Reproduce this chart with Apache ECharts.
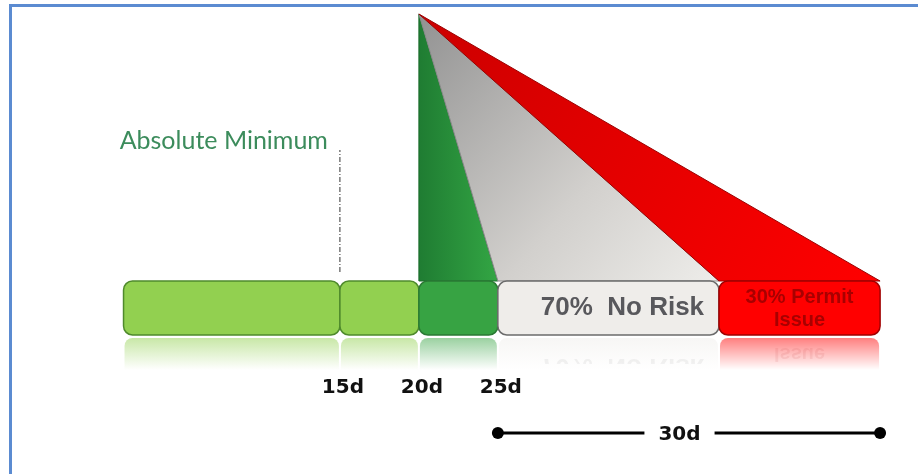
<!DOCTYPE html>
<html>
<head>
<meta charset="utf-8">
<script src="https://cdn.jsdelivr.net/npm/echarts@6/dist/echarts.min.js"></script>
<style>
html, body { margin: 0; padding: 0; background: #fff; }
#chart { width: 918px; height: 474px; }
</style>
</head>
<body>
<div id="chart"></div>
<script>
// 时间轴分段（单位：天）
var segStart = [1.3, 15, 20, 25, 39];
var segEnd = [15, 20, 25, 39, 49.2];
var segText = ['', '', '', '70%  No Risk', '30% Permit\nIssue'];
var barTop = 19.3;
var barBottom = 13.9;

// 顶点与三角形底边
var apexDay = 20;
var apexHeight = 46;
var wedgeStart = [20, 25, 39];
var wedgeEnd = [25, 39, 49.2];

// 刻度
var tickDays = [15, 20, 25];
var tickLabels = ['15d', '20d', '25d'];
var tickHeight = 8.6;

// 30天区间
var spanDays = [25, 49.2];
var spanLabel = '30d';
var spanLabelDay = 36.5;
var spanHeight = 4.1;

// 最低线
var minDay = 15;
var minLabel = 'Absolute Minimum';
var minLine = [20.2, 32.4];
var minLabelHeight = 33.3;

var segFill = ['#92d050', '#92d050', '#37a343', '#efedea', '#ff0000'];
var segStroke = ['#4f8a2c', '#4f8a2c', '#2a7a34', '#6b6b6b', '#a00000'];
var segTextColor = ['', '', '', '#58585c', '#a80000'];

var myChart = echarts.init(document.getElementById('chart'));

function fade(color, a) {
    var c = echarts.color.parse(color);
    return 'rgba(' + c[0] + ',' + c[1] + ',' + c[2] + ',' + a + ')';
}

function renderBar(params, api) {
    var i = params.dataIndex;
    var p0 = api.coord([api.value(0), api.value(2)]);
    var p1 = api.coord([api.value(1), api.value(3)]);
    var w = p1[0] - p0[0];
    var h = p1[1] - p0[1];
    var children = [{
        type: 'rect',
        shape: { x: p0[0] + 1, y: p1[1] + 3, width: w - 2, height: 32, r: [8, 8, 0, 0] },
        style: {
            fill: new echarts.graphic.LinearGradient(0, 0, 0, 1, [
                { offset: 0, color: fade(segFill[i], 0.5) },
                { offset: 1, color: fade(segFill[i], 0) }
            ])
        }
    }, {
        type: 'rect',
        shape: { x: p0[0], y: p0[1], width: w, height: h, r: 9 },
        style: { fill: segFill[i], stroke: segStroke[i], lineWidth: 1.5 }
    }];
    if (segText[i]) {
        var big = i === 3;
        var font = big ? 'bold 26px "Liberation Sans", Arial' : 'bold 20px "Liberation Sans", Arial';
        var cx = p0[0] + w / 2 + (big ? 14 : 0);
        var cy = p0[1] + h / 2 + (big ? 0 : 1);
        children.push({
            type: 'text',
            x: cx, y: cy,
            style: { text: segText[i], font: font, fill: segTextColor[i], align: 'center', verticalAlign: 'middle', lineHeight: 23 }
        });
        children.push({
            type: 'group',
            clipPath: { type: 'rect', shape: { x: p0[0], y: p1[1] + 3, width: w, height: 26 } },
            children: [{
                type: 'text',
                x: cx, y: p1[1] + (p1[1] - cy) + 4,
                scaleY: -1,
                style: { text: segText[i], font: font, fill: fade(segTextColor[i], 0.08), align: 'center', verticalAlign: 'middle', lineHeight: 23 }
            }]
        });
    }
    return { type: 'group', children: children };
}

var wedgeFill = [
    new echarts.graphic.LinearGradient(0, 0, 1, 0, [
        { offset: 0, color: '#1f7c32' },
        { offset: 1, color: '#33a644' }
    ]),
    new echarts.graphic.LinearGradient(0, 0, 1, 1, [
        { offset: 0, color: '#929292' },
        { offset: 0.6, color: '#d2d0cd' },
        { offset: 1, color: '#eeedea' }
    ]),
    new echarts.graphic.LinearGradient(0, 0, 1, 1, [
        { offset: 0, color: '#cc0000' },
        { offset: 1, color: '#ff0000' }
    ])
];
var wedgeStroke = ['#1a6a2a', '#8a8a8a', '#9a0000'];

function renderWedge(params, api) {
    var i = params.dataIndex;
    var a = api.coord([apexDay, apexHeight]);
    var b = api.coord([api.value(0), barTop]);
    var c = api.coord([api.value(1), barTop]);
    return {
        type: 'polygon',
        shape: { points: [a, b, c] },
        style: { fill: wedgeFill[i], stroke: wedgeStroke[i], lineWidth: 1 }
    };
}

function renderTick(params, api) {
    var p = api.coord([api.value(0), tickHeight]);
    return {
        type: 'text',
        x: p[0] + 3, y: p[1],
        style: { text: tickLabels[params.dataIndex], font: 'bold 20px "DejaVu Sans"', fill: '#111', align: 'center', verticalAlign: 'middle' }
    };
}

function renderSpan(params, api) {
    var a = api.coord([api.value(0), spanHeight]);
    var b = api.coord([api.value(1), spanHeight]);
    var m = api.coord([spanLabelDay, spanHeight]);
    return {
        type: 'group',
        children: [
            { type: 'line', shape: { x1: a[0], y1: a[1], x2: b[0], y2: b[1] }, style: { stroke: '#000', lineWidth: 3 } },
            { type: 'circle', shape: { cx: a[0], cy: a[1], r: 6 }, style: { fill: '#000' } },
            { type: 'circle', shape: { cx: b[0], cy: b[1], r: 6 }, style: { fill: '#000' } },
            {
                type: 'text', x: m[0], y: m[1] + 2,
                style: { text: spanLabel, font: 'bold 20px "DejaVu Sans"', fill: '#111', align: 'center', verticalAlign: 'middle', backgroundColor: '#fff', padding: [2, 14] }
            }
        ]
    };
}

function renderMin(params, api) {
    var a = api.coord([minDay, minLine[0]]);
    var b = api.coord([minDay, minLine[1]]);
    var t = api.coord([minDay, minLabelHeight]);
    return {
        type: 'group',
        children: [
            { type: 'line', shape: { x1: a[0], y1: a[1], x2: b[0], y2: b[1] }, style: { stroke: '#333', lineWidth: 1, lineDash: [5, 2, 1, 2] } },
            {
                type: 'text', x: t[0] - 12, y: t[1],
                style: { text: minLabel, font: '25px Lato', fill: '#3c8c5c', align: 'right', verticalAlign: 'middle' }
            }
        ]
    };
}

var option = {
    animation: false,
    grid: { left: 103, right: 0, top: 0, bottom: 0 },
    xAxis: { type: 'value', min: 0, max: 51.6, show: false },
    yAxis: { type: 'value', min: 0, max: 47.4, show: false },
    graphic: [{
        type: 'rect',
        shape: { x: 10.5, y: 5.5, width: 1000, height: 1000 },
        style: { fill: 'none', stroke: '#5b8bd1', lineWidth: 3 },
        z: 100
    }],
    series: [{
        type: 'custom',
        renderItem: renderWedge,
        data: wedgeStart.map(function (s, i) { return [s, wedgeEnd[i]]; }),
        z: 2
    }, {
        type: 'custom',
        renderItem: renderBar,
        data: segStart.map(function (s, i) { return [s, segEnd[i], barTop, barBottom]; }),
        z: 3
    }, {
        type: 'custom',
        renderItem: renderTick,
        data: tickDays.map(function (d) { return [d]; }),
        z: 4
    }, {
        type: 'custom',
        renderItem: renderSpan,
        data: [spanDays],
        z: 4
    }, {
        type: 'custom',
        renderItem: renderMin,
        data: [[minDay]],
        z: 4
    }]
};

myChart.setOption(option);
</script>
</body>
</html>
